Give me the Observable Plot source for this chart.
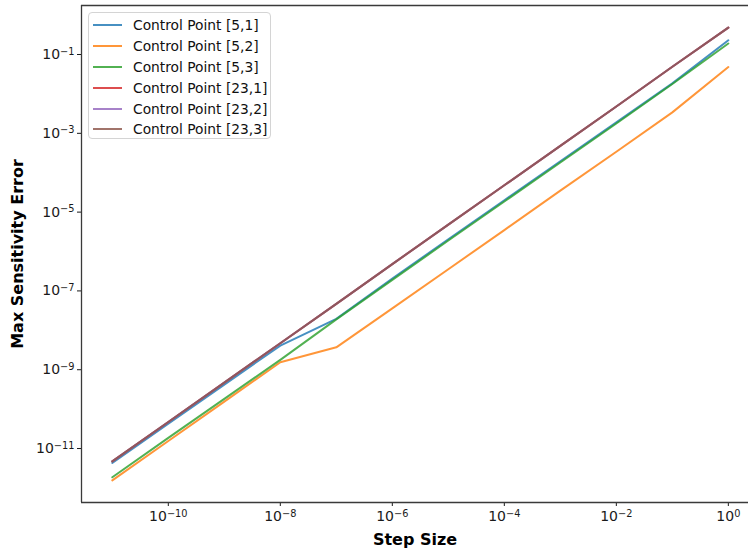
<!DOCTYPE html>
<html>
<head>
<meta charset="utf-8">
<script src="https://cdn.jsdelivr.net/npm/d3@7"></script>
<script src="https://cdn.jsdelivr.net/npm/@observablehq/plot@0.6"></script>
<style>
  html, body { margin: 0; padding: 0; background: #fff; }
  #wrap { position: relative; width: 748px; height: 550px; overflow: hidden; font-family: "DejaVu Sans", sans-serif; }
  #wrap svg g[aria-label="x-axis label"] text,
  #wrap svg g[aria-label="y-axis label"] text { font-weight: bold; font-size: 16px; fill: #000; }
  #legend { position: absolute; left: 88px; top: 12px; width: 183px; height: 127px; box-sizing: border-box;
    border: 1px solid #d4d4d4; border-radius: 4px; background: rgba(255,255,255,0.8); padding: 2px 0 0 0; }
  .row { height: 20.8px; display: flex; align-items: center; font-size: 13.8px; color: #111; white-space: nowrap; }
  .sw { width: 29px; height: 2px; margin-left: 4px; margin-right: 11px; }
</style>
</head>
<body>
<div id="wrap"></div>
<script>
const series = ["Control Point [5,1]", "Control Point [5,2]", "Control Point [5,3]",
                "Control Point [23,1]", "Control Point [23,2]", "Control Point [23,3]"];
const colors = ["#1f77b4", "#ff7f0e", "#2ca02c", "#d62728", "#9467bd", "#8c564b"];
const steps = [1e-11, 1e-10, 1e-9, 1e-8, 1e-7, 1e-6, 1e-5, 1e-4, 1e-3, 1e-2, 1e-1, 1e0];
const cp51 = [4.3e-12, 4.3e-11, 4.2e-10, 4.1e-9, 1.95e-8, 2.05e-7, 2.05e-6, 2.0e-5, 1.95e-4, 1.9e-3, 1.85e-2, 0.23];
const cp52 = [1.55e-12, 1.55e-11, 1.55e-10, 1.55e-9, 3.7e-9, 3.6e-8, 3.55e-7, 3.5e-6, 3.5e-5, 3.4e-4, 3.4e-3, 4.8e-2];
const cp53 = [1.86e-12, 1.86e-11, 1.82e-10, 1.78e-9, 1.9e-8, 1.9e-7, 1.9e-6, 1.86e-5, 1.82e-4, 1.78e-3, 1.78e-2, 0.19];
const cp231 = [4.7e-12, 4.7e-11, 4.7e-10, 4.7e-9, 4.7e-8, 4.8e-7, 4.8e-6, 4.8e-5, 4.8e-4, 4.8e-3, 4.9e-2, 0.48];
const cp232 = [4.7e-12, 4.7e-11, 4.7e-10, 4.7e-9, 4.7e-8, 4.8e-7, 4.8e-6, 4.8e-5, 4.8e-4, 4.8e-3, 4.9e-2, 0.48];
const cp233 = [4.7e-12, 4.7e-11, 4.7e-10, 4.7e-9, 4.7e-8, 4.8e-7, 4.8e-6, 4.8e-5, 4.8e-4, 4.8e-3, 4.9e-2, 0.48];
const xTicks = [1e-10, 1e-8, 1e-6, 1e-4, 1e-2, 1e0];
const yTicks = [1e-11, 1e-9, 1e-7, 1e-5, 1e-3, 1e-1];

const allSeries = [cp51, cp52, cp53, cp231, cp232, cp233];
const rows = [];
allSeries.forEach((vals, i) => vals.forEach((v, j) => rows.push({series: series[i], step: steps[j], err: v})));

// exponent written with a true minus sign; turned into a superscript tspan after rendering
const fmt = v => "10^" + String(Math.round(Math.log10(v))).replace("-", "\u2212");

const xDom = [Math.pow(10, -11.55), Math.pow(10, 0.36)];
const yDom = [Math.pow(10, -12.37), Math.pow(10, 0.244)];
const frameColor = "#3a3a3a";

const chart = Plot.plot({
  width: 748, height: 550,
  marginLeft: 81, marginRight: 0, marginTop: 5, marginBottom: 48,
  style: {fontFamily: "DejaVu Sans, sans-serif", fontSize: "14px", color: "#1a1a1a", background: "#fff"},
  x: {type: "log", domain: xDom, ticks: xTicks, tickFormat: fmt, label: "Step Size",
      labelAnchor: "center", labelArrow: "none", tickSize: 4, tickPadding: 5, labelOffset: 42},
  y: {type: "log", domain: yDom, ticks: yTicks, tickFormat: fmt, label: "Max Sensitivity Error",
      labelAnchor: "center", labelArrow: "none", tickSize: 4, tickPadding: 3, labelOffset: 70},
  color: {domain: series, range: colors},
  marks: [
    Plot.line(rows, {x: "step", y: "err", stroke: "series", z: "series", strokeWidth: 2, strokeOpacity: 0.82}),
    Plot.ruleX([xDom[0]], {stroke: frameColor, strokeWidth: 1.3}),
    Plot.ruleY([yDom[0], yDom[1]], {stroke: frameColor, strokeWidth: 1.3})
  ]
});
document.getElementById("wrap").appendChild(chart);

// superscript exponents on tick labels
chart.querySelectorAll('g[aria-label="x-axis tick label"] text, g[aria-label="y-axis tick label"] text').forEach(t => {
  const s = t.textContent;
  if (!s.includes("^")) return;
  const [base, exp] = s.split("^");
  t.textContent = "";
  const ns = "http://www.w3.org/2000/svg";
  const b = document.createElementNS(ns, "tspan");
  b.textContent = base;
  const e = document.createElementNS(ns, "tspan");
  e.textContent = exp;
  e.setAttribute("font-size", "9.8px");
  e.setAttribute("dy", "-0.45em");
  t.appendChild(b);
  t.appendChild(e);
});

const legend = document.createElement("div");
legend.id = "legend";
series.forEach((s, i) => {
  const r = document.createElement("div");
  r.className = "row";
  const sw = document.createElement("span");
  sw.className = "sw";
  sw.style.background = colors[i];
  sw.style.opacity = 0.82;
  r.appendChild(sw);
  r.appendChild(document.createTextNode(s));
  legend.appendChild(r);
});
document.getElementById("wrap").appendChild(legend);
</script>
</body>
</html>
